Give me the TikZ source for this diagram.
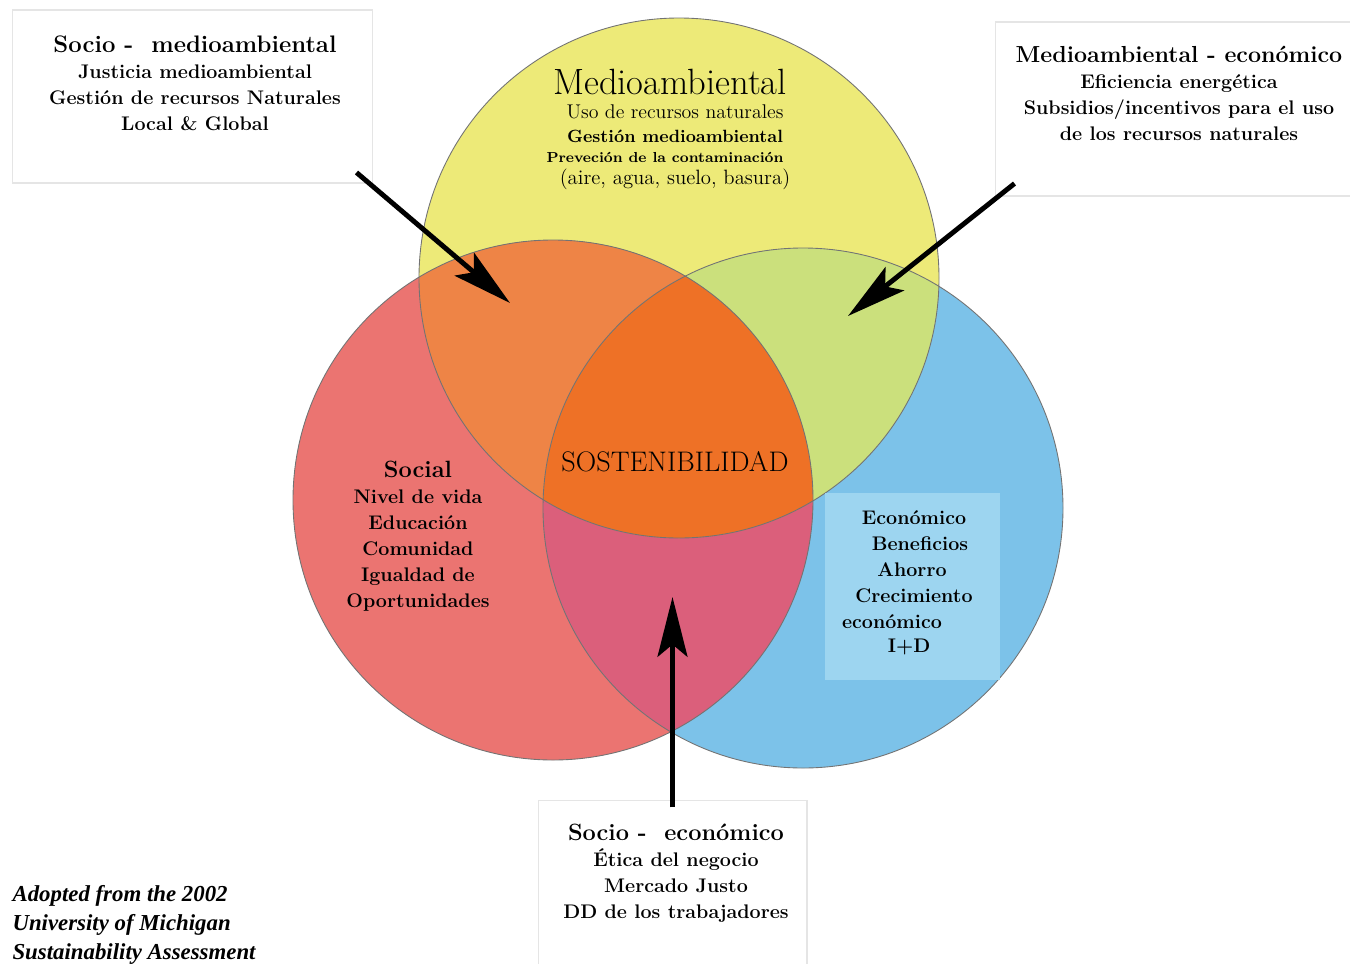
\documentclass[tikz,border=0pt]{standalone}
\usepackage{fontspec}
\usepackage{tikz}
\usetikzlibrary{arrows.meta}

\newfontfamily\notefont{Liberation Serif}

\definecolor{envYellow}{RGB}{237,234,120}
\definecolor{socRed}{RGB}{235,116,113}
\definecolor{ecoBlue}{RGB}{124,194,233}
\definecolor{envSocOrange}{RGB}{238,132,70}
\definecolor{envEcoGreen}{RGB}{203,224,124}
\definecolor{socEcoPink}{RGB}{219,95,123}
\definecolor{coreOrange}{RGB}{238,113,38}
\definecolor{panelBlue}{RGB}{157,213,240}

\begin{document}
\begin{tikzpicture}[x=0.02cm,y=-0.02cm,>={Stealth[length=34pt,width=17pt,inset=7pt]},semithick]
                  \tikzstyle{note}=[draw=black!10,fill=white,line width=0.6pt,inner sep=0pt]
                  \tikzstyle{bodytext}=[align=center,inner sep=0pt,font=\fontsize{11.2}{14.8}\selectfont\bfseries]
                  \tikzstyle{pointer}=[->,line width=2.8pt,black]

                  \useasboundingbox (0,0) rectangle (1350,964);
                  \fill[white] (0,0) rectangle (1350,964);

                  % the three circles
                  \coordinate (env) at (679,278);
                  \coordinate (soc) at (553,500);
                  \coordinate (eco) at (803,508);
                  \fill[envYellow] (env) circle[radius=260];
                  \fill[socRed]    (soc) circle[radius=260];
                  \fill[ecoBlue]   (eco) circle[radius=260];
                  \begin{scope}
                    \clip (soc) circle[radius=260];
                    \fill[socEcoPink] (eco) circle[radius=260];
                  \end{scope}
                  \begin{scope}
                    \clip (env) circle[radius=260];
                    \fill[envSocOrange] (soc) circle[radius=260];
                    \fill[envEcoGreen]  (eco) circle[radius=260];
                    \clip (soc) circle[radius=260];
                    \fill[coreOrange]   (eco) circle[radius=260];
                  \end{scope}
                  \foreach \c in {env,soc,eco}
                    \draw[black!55,line width=0.5pt] (\c) circle[radius=260];

                  \node[fill=panelBlue,minimum width=3.5cm,minimum height=3.74cm,inner sep=0pt] (ecoPanel) at (912.5,586.5) {};

                  % circle texts
                  \node[font=\fontsize{20.8}{24}\selectfont]            (envTitle) at (670,82)  {Medioambiental};
                  \node[font=\fontsize{11.3}{13}\selectfont]            (envL1)    at (675,112) {Uso de recursos naturales};
                  \node[font=\fontsize{10.1}{13}\selectfont\bfseries]   (envL2)    at (675,136) {Gestión medioambiental};
                  \node[font=\fontsize{8.25}{10}\selectfont\bfseries]   (envL3)    at (665,157) {Preveción de la contaminación};
                  \node[font=\fontsize{11.8}{13}\selectfont]            (envL4)    at (675,179) {(aire, agua, suelo, basura)};

                  \node[bodytext] (socText) at (418,536) {{\fontsize{13.4}{16}\selectfont Social}\\ Nivel de vida\\ Educación\\ Comunidad\\ Igualdad de\\ Oportunidades};

                  \foreach \txt/\xx/\yy [count=\i] in {Económico/914/518, Beneficios/920/544, Ahorro/912/570, Crecimiento/914/596, económico/892/622, I+D/909/647}
                    \node[bodytext] (ecoL\i) at (\xx,\yy) {\txt};

                  \node[font=\fontsize{16.1}{19}\selectfont] (core) at (675,462) {SOSTENIBILIDAD};

                  % white boxes
                  \node[note,minimum width=7.22cm,minimum height=3.46cm] (sm) at (192.5,96.5) {};
                  \node[note,minimum width=7.2cm,minimum height=3.48cm]  (me) at (1175,109) {};
                  \node[note,minimum width=5.38cm,minimum height=3.6cm]  (se) at (672.5,890) {};

                  \node[bodytext] (smText) at (195,83)  {{\fontsize{13.6}{16}\selectfont Socio - \ medioambiental}\\ Justicia medioambiental\\ Gestión de recursos Naturales\\ Local \& Global};
                  \node[bodytext] (meText) at (1179,93) {{\fontsize{13.2}{16}\selectfont Medioambiental - económico}\\ Eficiencia energética\\ Subsidios/incentivos para el uso\\ de los recursos naturales};
                  \node[bodytext] (seText) at (676,873) {{\fontsize{13.4}{16}\selectfont Socio - \ económico}\\ Ética del negocio\\ Mercado Justo\\ DD de los trabajadores};

                  \node[align=left,anchor=west,inner sep=0pt,font=\notefont\fontsize{13}{16.5}\selectfont\bfseries\itshape] (source) at (12,925) {Adopted from the 2002\\ University of Michigan\\ Sustainability Assessment};

                  % arrows
                  \coordinate (smTip) at (510,303);
                  \coordinate (meTip) at (848,316);
                  \coordinate (seTip) at (672.5,597);
                  \draw[pointer] ([shift={(-17,-11)}]sm.south east) -- (smTip);
                  \draw[pointer] ([shift={(20,-13)}]me.south west) -- (meTip);
                  \draw[pointer] ([yshift=-0.16cm]se.north) -- (seTip);
                \end{tikzpicture}
\end{document}
